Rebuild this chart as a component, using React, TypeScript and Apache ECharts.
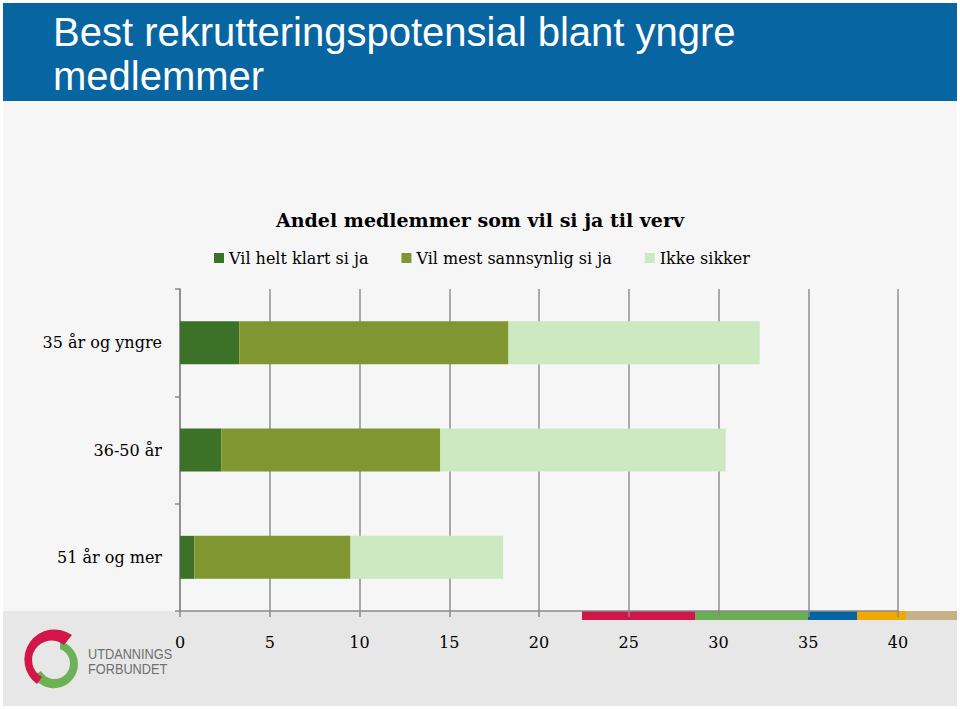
import React, { useEffect, useRef } from "react";
import * as echarts from "echarts";

const categories = ["35 år og yngre", "36-50 år", "51 år og mer"];
const seriesNames = ["Vil helt klart si ja", "Vil mest sannsynlig si ja", "Ikke sikker"];
const helt = [3.3, 2.3, 0.8];
const mest = [15.0, 12.2, 8.7];
const ikke = [14.0, 15.9, 8.5];
const seriesColors = ["#3b7228", "#7f9631", "#cde9c2"];
const xTicks = { min: 0, max: 40, interval: 5 };

const chartTitle = "Andel medlemmer som vil si ja til verv";
const headerLines = ["Best rekrutteringspotensial blant yngre", "medlemmer"];

const SERIF = "'DejaVu Serif', 'Liberation Serif', serif";

export default function App() {
  const ref = useRef<HTMLDivElement>(null);
  useEffect(() => {
    document.body.style.margin = "0";
    if (!ref.current) return;
    try {
      echarts.graphic.registerShape(
        "logoRed",
        echarts.graphic.extendPath(
          "M 37 684 A 29.5 29.5 0 1 1 72 635 L 64 645 A 19.5 19.5 0 1 0 42 677 Z",
          {}
        )
      );
      echarts.graphic.registerShape(
        "logoGreen",
        echarts.graphic.extendPath(
          "M 60 641 A 24 24 0 1 1 33 676 L 41 671 A 15.5 15.5 0 1 0 60 649 Z",
          {}
        )
      );
    } catch (e) {}
    const chart = echarts.init(ref.current, undefined, { renderer: "svg" });
    const stripColors = ["#d0164b", "#6aad52", "#0465a0", "#f0a900", "#c8b08b"];
    const stripX = [582, 695, 808, 857, 906, 957];
    chart.setOption({
      animation: false,
      backgroundColor: "#ffffff",
      title: {
        text: chartTitle,
        left: "center",
        top: 205,
        textStyle: { fontFamily: SERIF, fontWeight: "bold", fontSize: 19, color: "#000" },
      },
      legend: {
        left: 209,
        top: 245,
        itemWidth: 10,
        itemHeight: 10,
        itemGap: 33,
        icon: "rect",
        data: seriesNames,
        textStyle: { fontFamily: SERIF, fontSize: 16, color: "#000" },
      },
      grid: { left: 180, right: 62, top: 289, bottom: 98, containLabel: false },
      xAxis: {
        type: "value",
        min: xTicks.min,
        max: xTicks.max,
        interval: xTicks.interval,
        axisLine: { show: true, lineStyle: { color: "#8a8a8a", width: 1.5 } },
        axisTick: { show: true, length: 6, lineStyle: { color: "#8a8a8a", width: 1.5 } },
        splitLine: { show: true, lineStyle: { color: "#8f8f8f", width: 1.5 } },
        axisLabel: { fontFamily: SERIF, fontSize: 16, color: "#000", margin: 23 },
      },
      yAxis: {
        type: "category",
        inverse: true,
        data: categories,
        axisLine: { show: true, lineStyle: { color: "#8a8a8a", width: 1.5 } },
        axisTick: { show: true, length: 5, lineStyle: { color: "#8a8a8a", width: 1.5 } },
        axisLabel: { fontFamily: SERIF, fontSize: 16, color: "#000", margin: 18 },
      },
      series: [helt, mest, ikke].map((d, i) => ({
        type: "bar",
        name: seriesNames[i],
        stack: "total",
        data: d,
        barWidth: 43,
        itemStyle: { color: seriesColors[i] },
      })),
      graphic: {
        elements: [
          { type: "rect", z: -10, shape: { x: 3, y: 101, width: 954, height: 510 }, style: { fill: "#f6f6f6" }, silent: true },
          { type: "rect", z: -10, shape: { x: 3, y: 3, width: 954, height: 98 }, style: { fill: "#0766a2" }, silent: true },
          { type: "rect", z: -10, shape: { x: 3, y: 611, width: 954, height: 95 }, style: { fill: "#e7e7e7" }, silent: true },
          ...stripColors.map((c, i) => ({
            type: "rect",
            z: -5,
            shape: { x: stripX[i], y: 611, width: stripX[i + 1] - stripX[i], height: 9 },
            style: { fill: c },
            silent: true,
          })),
          {
            type: "text",
            x: 53,
            y: 12,
            style: {
              text: headerLines[0],
              fill: "#ffffff",
              font: "40px 'Liberation Sans', Arial, sans-serif",
              textVerticalAlign: "top",
            },
          },
          {
            type: "text",
            x: 53,
            y: 56,
            style: {
              text: headerLines[1],
              fill: "#ffffff",
              font: "40px 'Liberation Sans', Arial, sans-serif",
              textVerticalAlign: "top",
            },
          },
          { type: "logoRed", z: 5, style: { fill: "#d3164a" } },
          { type: "logoGreen", z: 4, style: { fill: "#6cb155" } },
          {
            type: "text",
            x: 88,
            y: 646,
            scaleX: 0.85,
            style: {
              text: "UTDANNINGS",
              fill: "#6f6f6f",
              font: "15px 'Liberation Sans', sans-serif",
              textVerticalAlign: "top",
            },
          },
          {
            type: "text",
            x: 88,
            y: 661,
            scaleX: 0.85,
            style: {
              text: "FORBUNDET",
              fill: "#6f6f6f",
              font: "15px 'Liberation Sans', sans-serif",
              textVerticalAlign: "top",
            },
          },
        ],
      },
    });
    return () => chart.dispose();
  }, []);
  return (
    <div
      ref={ref}
      style={{ position: "absolute", left: 0, top: 0, width: 960, height: 709 }}
    />
  );
}
